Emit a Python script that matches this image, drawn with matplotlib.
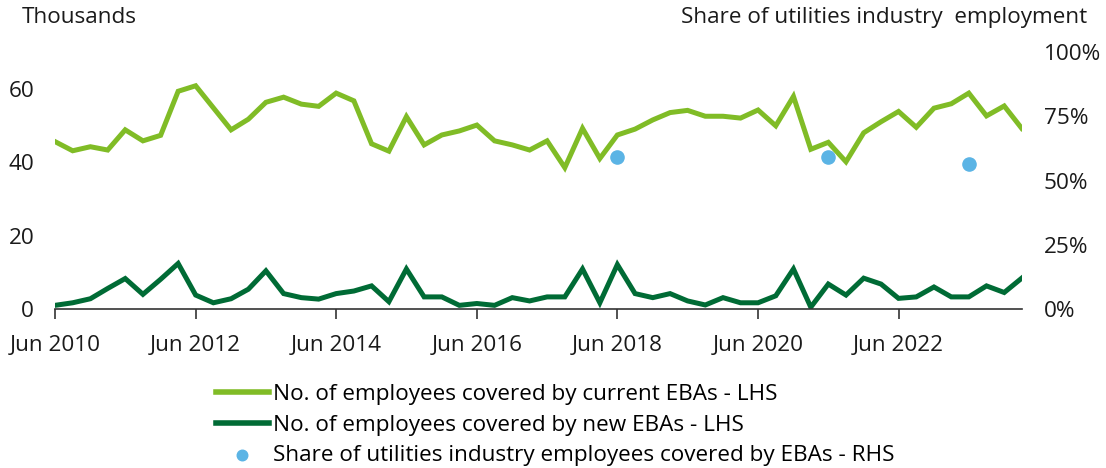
import matplotlib
matplotlib.use('Agg')
import matplotlib.pyplot as plt
import pandas as pd

plt.rcParams['font.family'] = ['Open Sans', 'DejaVu Sans']

# quarterly, Jun 2010 - Mar 2024
quarters = pd.date_range('2010-06-30', periods=56, freq='QE-DEC')
current = [45.6, 43.1, 44.2, 43.3, 48.8, 45.8, 47.3, 59.3, 60.8, 54.8,
           48.8, 51.7, 56.3, 57.7, 55.8, 55.2, 58.8, 56.7, 45.0, 43.0,
           52.4, 44.7, 47.4, 48.5, 50.1, 45.8, 44.7, 43.3, 45.8, 38.5,
           49.2, 41.0, 47.4, 49.0, 51.5, 53.5, 54.1, 52.5, 52.5, 52.0,
           54.2, 49.9, 57.9, 43.5, 45.4, 40.1, 48.0, 51.0, 53.8, 49.5,
           54.7, 55.9, 58.8, 52.6, 55.3, 49.2]
new = [1.0, 1.7, 2.8, 5.6, 8.3, 4.0, 8.1, 12.4, 3.8, 1.7,
       2.8, 5.4, 10.4, 4.2, 3.1, 2.7, 4.2, 4.9, 6.3, 2.0,
       10.9, 3.3, 3.3, 1.0, 1.5, 1.0, 3.1, 2.2, 3.3, 3.3,
       10.9, 1.7, 12.1, 4.2, 3.1, 4.2, 2.2, 1.1, 3.1, 1.7,
       1.7, 3.6, 10.9, 0.5, 6.8, 3.8, 8.4, 6.8, 2.9, 3.3,
       6.0, 3.3, 3.3, 6.3, 4.5, 8.4]
share_dates = pd.to_datetime(['2018-06-30', '2021-06-30', '2023-06-30'])
share = [59.0, 59.1, 56.3]

tick_dates = pd.date_range('2010-06-30', '2022-06-30', freq='24ME')
tick_labels = [d.strftime('Jun %Y') for d in tick_dates]

light = '#80BC26'
dark = '#006B35'
blue = '#5BB4E5'
fs = 16.2

fig = plt.figure(figsize=(11.06, 4.68), dpi=100)
ax = fig.add_axes([0.0497, 0.3397, 0.8741, 0.5492])
ax2 = ax.twinx()

l1, = ax.plot(quarters, current, color=light, lw=3.6, solid_joinstyle='miter',
              label='No. of employees covered by current EBAs - LHS')
l2, = ax.plot(quarters, new, color=dark, lw=3.6, solid_joinstyle='miter',
              label='No. of employees covered by new EBAs - LHS')
s = ax2.scatter(share_dates, share, s=90, color=blue, zorder=3,
                label='Share of utilities industry employees covered by EBAs - RHS')

ax.set_xlim(quarters[0], quarters[-1])
ax.set_ylim(0, 70)
ax.set_yticks([0, 20, 40, 60])
ax2.set_ylim(0, 100)
ax2.set_yticks([0, 25, 50, 75, 100])
ax2.set_yticklabels(['0%', '25%', '50%', '75%', '100%'])
ax.set_xticks(tick_dates)
ax.set_xticklabels(tick_labels)

for a in (ax, ax2):
    for side in ('top', 'left', 'right'):
        a.spines[side].set_visible(False)
ax2.spines['bottom'].set_visible(False)
ax.spines['bottom'].set_color('#333333')
ax.spines['bottom'].set_linewidth(1.2)
ax.tick_params(axis='y', length=0, pad=15, labelsize=fs, colors='#1a1a1a')
ax2.tick_params(axis='y', length=0, pad=16, labelsize=fs, colors='#1a1a1a')
ax.tick_params(axis='x', direction='out', length=7, width=1.2, color='#333333',
               pad=11.5, labelsize=fs, labelcolor='#1a1a1a')

fig.text(0.02, 0.963, 'Thousands', fontsize=fs, va='center', color='#1a1a1a')
fig.text(0.983, 0.963, 'Share of utilities industry  employment', fontsize=fs,
         va='center', ha='right', color='#1a1a1a')

leg = fig.legend(handles=[l1, l2, s], loc='upper left', bbox_to_anchor=(0.187, 0.198),
                 frameon=False, fontsize=fs, handlelength=2.35, handletextpad=0.2,
                 labelspacing=0.42, borderaxespad=0, markerscale=0.8)
for h in leg.legend_handles[:2]:
    h.set_linewidth(4)

fig.savefig('out.png', dpi=100)
